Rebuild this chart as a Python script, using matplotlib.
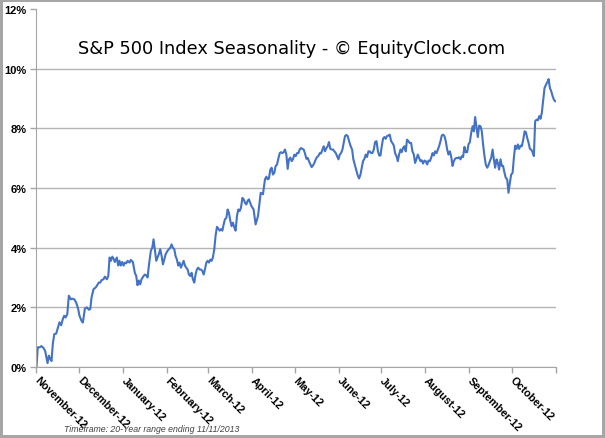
import numpy as np
import matplotlib
matplotlib.use('Agg')
import matplotlib.pylab as plt
import matplotlib.transforms as mtransforms

# days since Nov 1 (seasonal year) and average gain in percent
season_days = [0, 0.9, 2.1, 3.5, 4.9, 6.1, 7.8, 8.7, 9.7, 10.6,
               11.5, 12.5, 13.9, 14.8, 16.2, 17.4, 18.5, 19.5, 20.5, 21.7,
               22.8, 24.2, 25.2, 26.6, 28.0, 29.4, 30.3, 31.7, 32.7, 34.1,
               35.5, 36.9, 37.9, 38.8, 40.2, 41.6, 42.5, 43.9, 44.9, 45.8,
               47.2, 48.2, 49.6, 50.6, 51.5, 52.4, 53.4, 54.3, 55.2, 56.6,
               57.6, 58.5, 59.4, 60.4, 61.4, 62.3, 63.3, 64.2, 65.6, 66.5,
               67.9, 69.3, 70.3, 71.2, 72.1, 73.1, 74.0, 75.5, 76.4, 77.4,
               78.3, 79.2, 80.6, 81.6, 82.5, 83.4, 84.4, 85.3, 86.2, 87.2,
               88.2, 89.1, 90.1, 91.0, 92.4, 93.3, 94.3, 95.2, 96.1, 97.1,
               98.0, 98.9, 99.9, 100.8, 101.8, 102.7, 103.7, 104.6, 105.5, 106.5,
               107.4, 108.4, 109.3, 110.2, 111.2, 112.1, 113.0, 114.0, 114.9, 115.9,
               116.9, 117.8, 118.7, 119.7, 120.6, 121.5, 122.5, 123.4, 124.3, 125.3,
               126.2, 127.2, 128.1, 129.1, 130.0, 131.0, 131.9, 132.8, 133.8, 134.7,
               135.6, 136.6, 137.5, 138.4, 139.4, 140.3, 141.3, 142.2, 143.2, 144.1,
               145.1, 146.0, 147.0, 147.9, 148.8, 149.7, 151.4, 153.0, 154.4, 156.1,
               158.0, 159.6, 161.0, 162.0, 162.9, 163.8, 164.8, 165.7, 166.6, 167.6,
               168.5, 169.5, 170.5, 171.4, 172.3, 173.3, 174.2, 175.1, 176.1, 177.0,
               177.9, 178.9, 179.8, 180.7, 181.7, 182.7, 183.6, 184.6, 185.5, 186.4,
               187.4, 188.3, 189.2, 190.2, 191.1, 192.0, 193.0, 193.9, 194.9, 195.8,
               196.8, 197.7, 198.6, 199.6, 200.5, 201.5, 202.4, 203.3, 204.3, 205.2,
               206.1, 207.1, 208.0, 209.0, 209.9, 210.9, 211.8, 212.8, 213.7, 214.6,
               215.6, 216.5, 217.4, 218.4, 219.3, 220.3, 221.4, 222.4, 223.3, 224.5,
               225.5, 226.4, 227.3, 228.3, 229.2, 230.1, 231.1, 232.0, 232.9, 233.9,
               234.8, 235.8, 236.7, 237.7, 238.6, 239.6, 240.6, 241.5, 242.4, 243.3,
               244.2, 245.2, 246.1, 247.0, 248.0, 248.9, 249.9, 250.8, 251.8, 252.7,
               253.7, 254.6, 255.5, 256.5, 257.4, 258.3, 259.3, 260.2, 261.1, 262.1,
               263.0, 264.0, 264.9, 265.9, 266.8, 267.8, 268.7, 269.6, 270.6, 271.5,
               272.4, 273.4, 274.3, 275.3, 276.2, 277.2, 278.1, 279.1, 280.0, 280.9,
               281.9, 282.8, 283.7, 284.7, 285.6, 286.5, 287.5, 288.4, 289.4, 290.3,
               291.3, 292.2, 293.2, 294.1, 295.0, 296.0, 296.9, 297.8, 298.8, 299.7,
               300.6, 301.6, 302.5, 303.5, 304.4, 305.4, 306.3, 307.3, 308.2, 309.1,
               310.1, 311.0, 311.9, 312.9, 313.8, 314.7, 315.7, 316.6, 317.6, 318.5,
               319.5, 320.4, 321.4, 322.3, 323.2, 324.2, 325.1, 326.0, 327.0, 327.9,
               328.8, 329.8, 330.7, 331.7, 332.6, 333.6, 334.5, 335.5, 336.4, 337.3,
               338.3, 339.2, 340.1, 341.1, 342.0, 343.0, 344.0, 344.9, 345.8, 346.8,
               347.7, 348.6, 349.6, 350.5, 351.4, 352.4, 353.3, 354.3, 355.2, 356.1,
               357.1, 358.0, 359.0, 359.9, 360.9, 361.8, 362.7, 363.7, 364.6, 365.5]

avg_return_pct = [0.00, 0.66, 0.66, 0.70, 0.64, 0.54, 0.13, 0.38, 0.27, 0.20,
                  0.77, 1.10, 1.12, 1.27, 1.50, 1.40, 1.60, 1.72, 1.66, 1.77,
                  2.39, 2.27, 2.29, 2.27, 2.16, 1.94, 1.72, 1.55, 1.49, 1.96,
                  2.00, 1.92, 1.94, 2.33, 2.61, 2.66, 2.72, 2.83, 2.83, 2.91,
                  2.94, 3.03, 2.94, 3.05, 3.67, 3.56, 3.70, 3.63, 3.52, 3.67,
                  3.40, 3.56, 3.40, 3.52, 3.40, 3.50, 3.48, 3.56, 3.50, 3.59,
                  3.52, 3.16, 3.05, 2.74, 2.90, 2.77, 2.94, 3.05, 3.10, 3.07,
                  3.00, 3.40, 3.90, 4.00, 4.28, 3.95, 3.56, 3.67, 3.78, 3.95,
                  3.72, 3.44, 3.61, 3.78, 3.90, 3.95, 4.00, 4.11, 4.00, 3.95,
                  3.72, 3.61, 3.40, 3.50, 3.33, 3.44, 3.56, 3.40, 3.33, 3.27,
                  3.10, 3.05, 3.16, 2.94, 2.83, 3.10, 3.27, 3.33, 3.27, 3.27,
                  3.22, 3.10, 3.27, 3.50, 3.56, 3.50, 3.60, 3.56, 3.67, 3.95,
                  4.40, 4.70, 4.64, 4.57, 4.62, 4.57, 4.78, 4.95, 5.00, 5.28,
                  5.17, 4.90, 4.72, 4.84, 4.68, 4.57, 5.07, 5.28, 5.23, 5.34,
                  5.67, 5.62, 5.50, 5.45, 5.57, 5.62, 5.40, 5.28, 4.78, 5.06,
                  5.84, 5.79, 6.29, 6.38, 6.29, 6.32, 6.62, 6.68, 6.45, 6.51,
                  6.73, 6.79, 7.00, 7.17, 7.20, 7.17, 7.20, 7.29, 7.12, 6.64,
                  6.96, 7.02, 6.90, 6.96, 7.12, 7.07, 7.17, 7.17, 7.29, 7.34,
                  7.31, 7.29, 7.16, 6.98, 7.01, 6.90, 6.79, 6.70, 6.76, 6.84,
                  6.96, 7.04, 7.07, 7.17, 7.16, 7.29, 7.40, 7.23, 7.34, 7.40,
                  7.54, 7.31, 7.29, 7.29, 7.23, 7.17, 7.07, 6.96, 7.12, 7.17,
                  7.29, 7.51, 7.74, 7.78, 7.74, 7.57, 7.40, 7.29, 6.96, 6.74,
                  6.57, 6.42, 6.32, 6.45, 6.68, 6.90, 6.98, 7.12, 7.04, 7.23,
                  7.23, 7.17, 7.17, 7.29, 7.54, 7.57, 7.23, 7.09, 7.09, 7.40,
                  7.65, 7.71, 7.65, 7.74, 7.76, 7.79, 7.57, 7.51, 7.42, 7.17,
                  7.07, 6.90, 7.12, 7.29, 7.20, 7.34, 7.40, 7.23, 7.62, 7.57,
                  7.51, 7.51, 7.23, 7.12, 6.84, 6.98, 7.12, 7.01, 6.90, 6.93,
                  6.82, 6.92, 6.90, 6.79, 6.92, 6.90, 7.01, 7.17, 7.09, 7.23,
                  7.17, 7.29, 7.40, 7.57, 7.76, 7.79, 7.74, 7.57, 7.29, 7.12,
                  7.23, 7.06, 6.74, 6.90, 6.98, 7.01, 7.00, 7.03, 6.96, 7.07,
                  7.04, 7.38, 7.20, 7.20, 7.46, 7.54, 7.84, 8.07, 7.90, 8.38,
                  8.02, 7.71, 8.09, 8.07, 7.90, 7.46, 7.07, 6.79, 6.68, 6.76,
                  6.90, 7.01, 7.29, 6.96, 6.68, 6.96, 6.84, 6.62, 6.96, 6.74,
                  6.74, 6.51, 6.34, 6.29, 5.84, 6.18, 6.45, 6.51, 7.01, 7.42,
                  7.31, 7.46, 7.31, 7.42, 7.40, 7.62, 7.90, 7.87, 7.68, 7.51,
                  7.31, 7.29, 7.20, 7.07, 8.24, 8.29, 8.27, 8.41, 8.32, 8.52,
                  8.96, 9.35, 9.46, 9.54, 9.65, 9.35, 9.25, 9.08, 8.96, 8.91]

month_labels = ['November-12', 'December-12', 'January-12', 'February-12', 'March-12', 'April-12',
                'May-12', 'June-12', 'July-12', 'August-12', 'September-12', 'October-12']
month_lengths = [30, 31, 31, 29, 31, 30, 31, 30, 31, 31, 30, 31]
y_ticks = [0, 2, 4, 6, 8, 10, 12]

chart_title = 'S&P 500 Index Seasonality - \u00a9 EquityClock.com'
footnote = 'Timeframe: 20-Year range ending 11/11/2013'


def plot_seasonality(days, returns):
    # month boundaries for the x ticks
    month_starts = np.concatenate(([0], np.cumsum(month_lengths)))

    fig = plt.figure(figsize=(6.05, 4.39), dpi=100)
    fig.patch.set_edgecolor('#a6a6a6')
    fig.patch.set_linewidth(3)
    ax = fig.add_axes([0.0603, 0.1617, 0.8585, 0.8155])

    ax.plot(days, returns, color='#4472c4', linewidth=1.5)

    ax.set_xlim(0, month_starts[-1])
    ax.set_ylim(y_ticks[0], y_ticks[-1])

    ax.set_yticks(y_ticks)
    ax.set_yticklabels(['%d%%' % v for v in y_ticks], fontsize=8, fontweight='bold',
                       family='Liberation Sans')
    ax.set_xticks(month_starts)
    ax.set_xticklabels(month_labels + [''], fontsize=7.8, fontweight='bold', family='Liberation Sans',
                       rotation=-45, ha='left', va='center', rotation_mode='anchor')
    ax.tick_params(direction='out', length=4, width=1, color='#a6a6a6', pad=3)
    ax.tick_params(axis='x', pad=4)

    # nudge the month names so they start right under the tick
    shift = mtransforms.ScaledTranslation(0, 0, fig.dpi_scale_trans)
    for label in ax.get_xticklabels():
        label.set_transform(label.get_transform() + shift)

    ax.grid(axis='y', color='#b5b5b5', linewidth=1.0)
    ax.get_ygridlines()[-1].set_visible(False)
    ax.set_axisbelow(True)

    for side in ['top', 'right']:
        ax.spines[side].set_visible(False)
    for side in ['left', 'bottom']:
        ax.spines[side].set_color('#a6a6a6')

    fig.text(0.482, 0.877, chart_title, ha='center', va='baseline', fontsize=12.8, family='DejaVu Sans')
    fig.text(0.106, 0.016, footnote, ha='left', va='baseline', fontsize=6.3, style='italic',
             color='#404040', family='Liberation Sans')

    fig.savefig('out.png', dpi=100, edgecolor=fig.get_edgecolor())


plot_seasonality(season_days, avg_return_pct)
